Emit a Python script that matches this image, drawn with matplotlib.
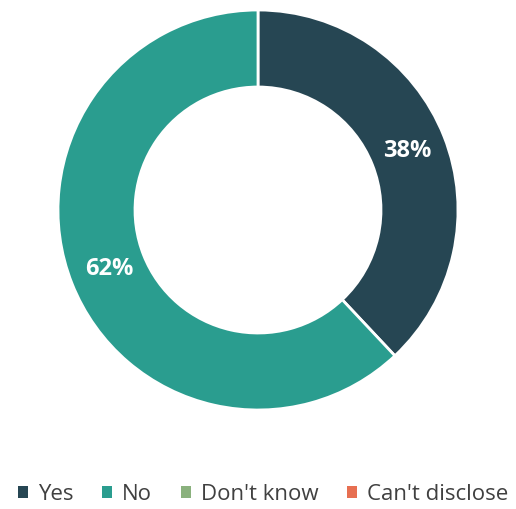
import numpy as np
import matplotlib.pyplot as plt
from matplotlib.patches import Patch

labels = ["Yes", "No", "Don't know", "Can't disclose"]
values = [38, 62, 0, 0]
colors = ["#264653", "#2a9d8f", "#8ab17d", "#e76f51"]
pct_labels = ["38%", "62%", "", ""]

plt.rcParams["font.family"] = ["Open Sans", "DejaVu Sans"]

fig = plt.figure(figsize=(5.16, 5.09), dpi=100)
ax = fig.add_axes([58 / 516, 99 / 509, 400 / 516, 400 / 509])

shown = [(v, c, p) for v, c, p in zip(values, colors, pct_labels) if v > 0]
wedges, _ = ax.pie([s[0] for s in shown], colors=[s[1] for s in shown],
                   startangle=90, counterclock=False, radius=1.0,
                   wedgeprops=dict(width=0.385, edgecolor="white", linewidth=2))
for w, (v, c, p) in zip(wedges, shown):
    ang = np.deg2rad((w.theta1 + w.theta2) / 2)
    ax.text(0.8 * np.cos(ang), 0.8 * np.sin(ang), p, ha="center", va="center",
            color="white", fontsize=17, fontweight="bold")
ax.set_xlim(-1, 1)
ax.set_ylim(-1, 1)
ax.set_aspect("equal")
ax.axis("off")

handles = [Patch(facecolor=c, edgecolor="none") for c in colors]
fig.legend(handles, labels, loc="center", bbox_to_anchor=(0.51, 15 / 509), ncol=4,
           frameon=False, fontsize=16, handlelength=0.45, handleheight=0.45,
           handletextpad=0.45, columnspacing=1.3, labelcolor="#404040",
           borderaxespad=0, borderpad=0)

fig.savefig("out.png", dpi=100)
